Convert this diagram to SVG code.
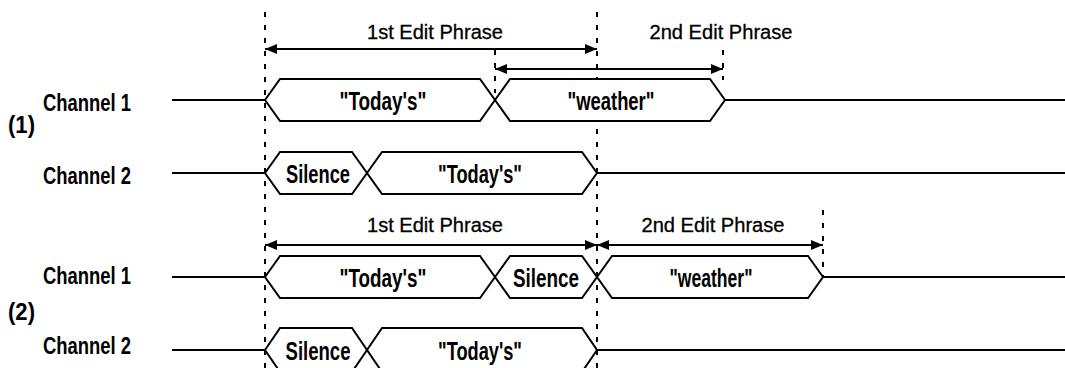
<svg xmlns="http://www.w3.org/2000/svg" width="1065" height="368" viewBox="0 0 1065 368">
<defs>
<style>
.ln{stroke:#000;stroke-width:2;fill:none}
.hx{stroke:#000;stroke-width:2;fill:#fff;stroke-linejoin:miter}
.ds{stroke:#000;stroke-width:2;stroke-dasharray:5 8;fill:none}
.ar{stroke:#000;stroke-width:2;fill:none;marker-start:url(#a0);marker-end:url(#a1)}
.lab{font-family:"Liberation Sans",Arial,sans-serif;font-size:23px;font-weight:bold;fill:#000}
.ht{font-family:"Liberation Sans",Arial,sans-serif;font-size:25px;font-weight:bold;fill:#000;text-anchor:middle}
.ep{font-family:"Liberation Sans",Arial,sans-serif;font-size:20px;fill:#000;text-anchor:middle;stroke:#000;stroke-width:0.3}
</style>
<marker id="a1" viewBox="0 0 12 10" refX="12" refY="5" markerWidth="12" markerHeight="10" markerUnits="userSpaceOnUse" orient="auto"><path d="M0,0 L12,5 L0,10 Z" fill="#000"/></marker>
<marker id="a0" viewBox="0 0 12 10" refX="0" refY="5" markerWidth="12" markerHeight="10" markerUnits="userSpaceOnUse" orient="auto"><path d="M12,0 L0,5 L12,10 Z" fill="#000"/></marker>
</defs>
<rect width="1065" height="368" fill="#fff"/>

<g id="labels">
<text class="lab" x="43" y="111" textLength="88" lengthAdjust="spacingAndGlyphs">Channel 1</text>
<text class="lab" x="8" y="133" textLength="27" lengthAdjust="spacingAndGlyphs">(1)</text>
<text class="lab" x="43" y="184" textLength="88" lengthAdjust="spacingAndGlyphs">Channel 2</text>
<text class="lab" x="43" y="284" textLength="88" lengthAdjust="spacingAndGlyphs">Channel 1</text>
<text class="lab" x="8" y="320" textLength="27" lengthAdjust="spacingAndGlyphs">(2)</text>
<text class="lab" x="43" y="354" textLength="88" lengthAdjust="spacingAndGlyphs">Channel 2</text>
</g>

<g id="connectors">
<line class="ds" x1="265" y1="12" x2="265" y2="368"/>
<line class="ds" x1="597" y1="12" x2="597" y2="368"/>
<line class="ds" x1="495" y1="50" x2="495" y2="93"/>
<line class="ds" x1="723" y1="50" x2="723" y2="80"/>
<line class="ds" x1="823" y1="210" x2="823" y2="277"/>
<line class="ar" x1="265" y1="49" x2="597" y2="49"/>
<line class="ar" x1="495" y1="69" x2="723" y2="69"/>
<line class="ar" x1="265" y1="245" x2="597" y2="245"/>
<line class="ar" x1="597" y1="245" x2="823" y2="245"/>
<line class="ln" x1="172" y1="100" x2="265" y2="100"/>
<line class="ln" x1="725" y1="100" x2="1065" y2="100"/>
<line class="ln" x1="172" y1="173" x2="265" y2="173"/>
<line class="ln" x1="597" y1="173" x2="1065" y2="173"/>
<line class="ln" x1="172" y1="277" x2="265" y2="277"/>
<line class="ln" x1="823" y1="277" x2="1065" y2="277"/>
<line class="ln" x1="172" y1="350" x2="265" y2="350"/>
<line class="ln" x1="597" y1="350" x2="1065" y2="350"/>
</g>

<g id="phrase-labels">
<text class="ep" x="435" y="39" textLength="136" lengthAdjust="spacingAndGlyphs">1st Edit Phrase</text>
<text class="ep" x="721" y="39" textLength="143" lengthAdjust="spacingAndGlyphs">2nd Edit Phrase</text>
<text class="ep" x="435" y="232" textLength="136" lengthAdjust="spacingAndGlyphs">1st Edit Phrase</text>
<text class="ep" x="713" y="232" textLength="143" lengthAdjust="spacingAndGlyphs">2nd Edit Phrase</text>
</g>

<g id="s1-ch1-todays">
<polygon class="hx" points="265,100 280,79 480,79 495,100 480,121 280,121"/>
<text class="ht" x="383" y="110" textLength="87" lengthAdjust="spacingAndGlyphs">"Today's"</text>
</g>
<g id="s1-ch1-weather">
<polygon class="hx" points="495,100 510,79 710,79 725,100 710,121 510,121"/>
<text class="ht" x="611" y="110" textLength="87" lengthAdjust="spacingAndGlyphs">"weather"</text>
</g>
<g id="s1-ch2-silence">
<polygon class="hx" points="265,173 280,152 352,152 367,173 352,194 280,194"/>
<text class="ht" x="318" y="183" textLength="64" lengthAdjust="spacingAndGlyphs">Silence</text>
</g>
<g id="s1-ch2-todays">
<polygon class="hx" points="367,173 382,152 582,152 597,173 582,194 382,194"/>
<text class="ht" x="480" y="183" textLength="84" lengthAdjust="spacingAndGlyphs">"Today's"</text>
</g>

<g id="s2-ch1-todays">
<polygon class="hx" points="265,277 280,256 480,256 495,277 480,298 280,298"/>
<text class="ht" x="383" y="287" textLength="87" lengthAdjust="spacingAndGlyphs">"Today's"</text>
</g>
<g id="s2-ch1-silence">
<polygon class="hx" points="495,277 510,256 582,256 597,277 582,298 510,298"/>
<text class="ht" x="546" y="287" textLength="66" lengthAdjust="spacingAndGlyphs">Silence</text>
</g>
<g id="s2-ch1-weather">
<polygon class="hx" points="597,277 612,256 808,256 823,277 808,298 612,298"/>
<text class="ht" x="711" y="287" textLength="83" lengthAdjust="spacingAndGlyphs">"weather"</text>
</g>
<g id="s2-ch2-silence">
<polygon class="hx" points="265,350 280,328 352,328 367,350 352,372 280,372"/>
<text class="ht" x="318" y="360" textLength="65" lengthAdjust="spacingAndGlyphs">Silence</text>
</g>
<g id="s2-ch2-todays">
<polygon class="hx" points="367,350 382,328 582,328 597,350 582,372 382,372"/>
<text class="ht" x="480" y="360" textLength="84" lengthAdjust="spacingAndGlyphs">"Today's"</text>
</g>
</svg>
